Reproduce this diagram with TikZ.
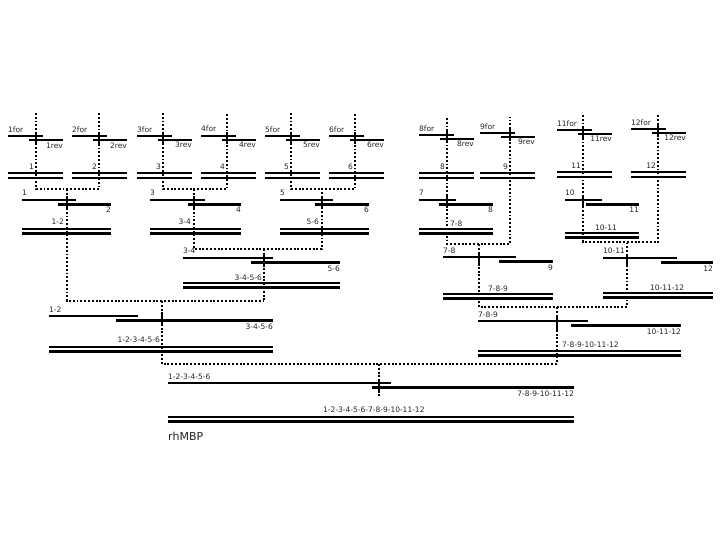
\documentclass[tikz,border=0pt]{standalone}
\usepackage{fontspec}
\setmainfont{DejaVu Sans}
\tikzset{
  prim/.style={line width=2.6pt},
  dbl/.style={line width=2.6pt},
  dots/.style={line width=1.9pt, dash pattern=on 1.9pt off 1.9pt},
  tickmark/.style={line width=1.8pt},
  lbl/.style={inner sep=0pt, font=\fontsize{7.5}{8}\selectfont, text=black!85},
}
\newcommand\primerset[7]{%
  \draw[prim] (#1,#3) -- (#1+35,#3);
  \draw[prim] (#1+21,#3+4) -- (#1+55,#3+4);
  \draw[tickmark] (#2,#3-4) -- (#2,#3+8);
  \draw[dbl] (#1,#7) -- (#1+55,#7);
  \draw[dbl] (#1,#7+5) -- (#1+55,#7+5);
  \node[lbl,anchor=base west] (f#4) at (#1,#5) {#4for};
  \node[lbl,anchor=base east] (r#4) at (#1+55,#6) {#4rev};
  \node[lbl,anchor=base east] (n#4) at (#2-2,#7-3) {#4};
}
\newcommand\mergeset[9]{%
  \draw[prim] (#1,#5) -- (#2,#5);
  \draw[prim] (#3,#5+4.5) -- (#4,#5+4.5);
  \draw[tickmark] (#6,#5-4) -- (#6,#5+8.5);
  \draw[dbl] (#1,#7) -- (#4,#7);
  \draw[dbl] (#1,#7+4.5) -- (#4,#7+4.5);
  \node[lbl,anchor=base west] (p#8) at (#1,#5-4) {#8};
  \node[lbl,anchor=base east] (q#9) at (#4,#5+13) {#9};
}
\begin{document}
\begin{tikzpicture}[x=1pt,y=-1pt]
\fill[white] (0,0) rectangle (720,540);
\useasboundingbox (0,0) rectangle (720,540);
% dotted connectors
\draw[dots] (36,113) -- (36,189) -- (99,189) -- (99,113);
\draw[dots] (163,113) -- (163,189) -- (227,189) -- (227,113);
\draw[dots] (291,113) -- (291,189) -- (355,189) -- (355,113);
\draw[dots] (67,189) -- (67,301) -- (264,301);
\draw[dots] (194,189) -- (194,249) -- (322,249) -- (322,189);
\draw[dots] (264,249) -- (264,301);
\draw[dots] (162,301) -- (162,364) -- (557,364);
\draw[dots] (447,118) -- (447,244) -- (510,244) -- (510,117);
\draw[dots] (583,115) -- (583,242) -- (658,242) -- (658,115);
\draw[dots] (479,244) -- (479,307) -- (627,307) -- (627,242);
\draw[dots] (557,307) -- (557,364);
\draw[dots] (379,364) -- (379,398);
% primer pairs
\primerset{8}{36}{136}{1}{133}{149}{173}
\primerset{72}{99}{136}{2}{133}{149}{173}
\primerset{137}{163}{136}{3}{133}{148}{173}
\primerset{201}{227}{136}{4}{132}{148}{173}
\primerset{265}{291}{136}{5}{133}{148}{173}
\primerset{329}{355}{136}{6}{133}{148}{173}
\primerset{419}{447}{135}{8}{132}{147}{173}
\primerset{480}{510}{133}{9}{130}{145}{173}
\primerset{557}{583}{130}{11}{127}{142}{172}
\primerset{631}{658}{129}{12}{126}{141}{172}
% merges
\mergeset{22}{76}{58}{111}{200}{67}{229}{1}{2}
\mergeset{150}{205}{188}{241}{200}{194}{229}{3}{4}
\mergeset{280}{333}{315}{369}{200}{322}{229}{5}{6}
\mergeset{419}{456}{439}{493}{200}{447}{229}{7}{8}
\mergeset{565}{602}{586}{639}{200}{583}{233}{10}{11}
\mergeset{183}{273}{251}{340}{258}{264}{283}{3-4}{5-6}
\mergeset{443}{516}{499}{553}{257}{479}{294}{7-8}{9}
\mergeset{603}{677}{661}{713}{258}{627}{293}{10-11}{12}
\mergeset{49}{138}{116}{273}{316}{162}{347}{1-2}{3-4-5-6}
\mergeset{478}{588}{571}{681}{321}{557}{351}{7-8-9}{10-11-12}
\mergeset{168}{391}{372}{574}{383}{379}{417}{1-2-3-4-5-6}{7-8-9-10-11-12}
% merged product labels
\node[lbl,anchor=base east] (m12) at (64,225) {1-2};
\node[lbl,anchor=base east] (m34) at (191,225) {3-4};
\node[lbl,anchor=base east] (m56) at (319,225) {5-6};
\node[lbl,anchor=base west] (m78) at (450,226) {7-8};
\node[lbl,anchor=base west] (m1011) at (595,230) {10-11};
\node[lbl,anchor=base east] (m3456) at (262,280) {3-4-5-6};
\node[lbl,anchor=base west] (m789) at (488,291) {7-8-9};
\node[lbl,anchor=base west] (m101112) at (650,290) {10-11-12};
\node[lbl,anchor=base east] (m123456) at (160,342) {1-2-3-4-5-6};
\node[lbl,anchor=base west] (m789101112) at (562,347) {7-8-9-10-11-12};
\node[lbl,anchor=base west] (mall) at (323,412) {1-2-3-4-5-6-7-8-9-10-11-12};
\node[inner sep=0pt,anchor=base west,font=\fontsize{11}{13}\selectfont,text=black!85] (rh) at (168,440) {rhMBP};
\end{tikzpicture}
\end{document}
